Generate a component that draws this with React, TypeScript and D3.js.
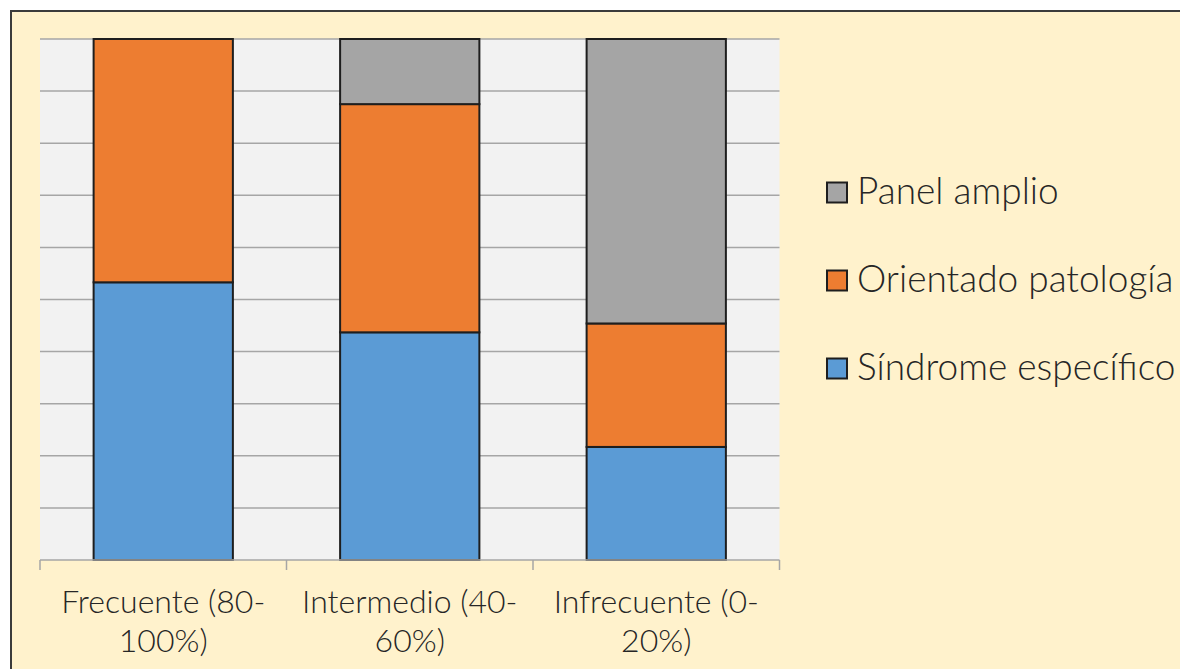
import React from "react";
import * as d3 from "d3";

const categories = ["Frecuente (80-100%)", "Intermedio (40-60%)", "Infrecuente (0-20%)"];
const categoryLines = [
  ["Frecuente (80-", "100%)"],
  ["Intermedio (40-", "60%)"],
  ["Infrecuente (0-", "20%)"],
];
const seriesNames = ["Síndrome específico", "Orientado patología", "Panel amplio"];
const sindromeEspecifico = [53.3, 43.7, 21.7];
const orientadoPatologia = [46.7, 43.8, 23.7];
const panelAmplio = [0, 12.5, 54.6];
const seriesColors = ["#5b9bd5", "#ed7d31", "#a5a5a5"];
const yTicks = [0, 10, 20, 30, 40, 50, 60, 70, 80, 90, 100];

export default function App() {
  const W = 1180, H = 669;
  const left = 40, right = 779.5, top = 39, bottom = 560;
  const x = d3.scaleBand<string>().domain(categories).range([left, right]).paddingInner(0.435).paddingOuter(0.2175);
  const y = d3.scaleLinear().domain([0, 100]).range([bottom, top]);

  const rows = categories.map((c, i) => ({
    cat: c,
    s0: sindromeEspecifico[i],
    s1: orientadoPatologia[i],
    s2: panelAmplio[i],
  }));
  const stack = d3.stack<any>().keys(["s0", "s1", "s2"]);
  const stacked = stack(rows);

  const font = "'Lato Light', Lato, 'Open Sans', sans-serif";
  const textColor = "#262626";
  const step = x.step();
  const tickXs = [0, 1, 2, 3].map((i) => left + i * step);

  const legendOrder = [2, 1, 0];

  return (
    <svg width={W} height={H} style={{ position: "absolute", left: 0, top: 0 }}>
      <rect x={0} y={0} width={W} height={H} fill="#ffffff" />
      <rect x={11} y={11} width={W + 20} height={H + 20} fill="#fff2cc" stroke="#3b3b3b" strokeWidth={2} />
      <rect x={left} y={top} width={right - left} height={bottom - top} fill="#f2f2f2" />
      {yTicks.slice(1).map((t) => (
        <line key={t} x1={left} x2={right} y1={y(t)} y2={y(t)} stroke="#a6a6a6" strokeWidth={1.5} />
      ))}
      {stacked.map((layer, si) =>
        layer.map((d, ci) => {
          const h = y(d[0]) - y(d[1]);
          if (h <= 0) return null;
          return (
            <rect
              key={si + "-" + ci}
              x={x(categories[ci])!}
              y={y(d[1])}
              width={x.bandwidth()}
              height={h}
              fill={seriesColors[si]}
              stroke="#1e1e1e"
              strokeWidth={2}
            />
          );
        })
      )}
      <line x1={left} x2={right} y1={bottom} y2={bottom} stroke="#a6a6a6" strokeWidth={1.5} />
      {tickXs.map((tx, i) => (
        <line key={i} x1={tx} x2={tx} y1={bottom} y2={bottom + 10} stroke="#a6a6a6" strokeWidth={1.5} />
      ))}
      {categories.map((c, i) => (
        <text
          key={c}
          x={x(c)! + x.bandwidth() / 2}
          textAnchor="middle"
          fontFamily={font}
          fontWeight={300}
          fontSize={32}
          fill={textColor}
        >
          {categoryLines[i].map((ln, j) => (
            <tspan key={j} x={x(c)! + x.bandwidth() / 2} y={613 + j * 38.5}>
              {ln}
            </tspan>
          ))}
        </text>
      ))}
      {legendOrder.map((si, k) => {
        const cy = 192.5 + k * 88;
        return (
          <g key={si}>
            <rect x={827} y={cy - 10} width={20} height={20} fill={seriesColors[si]} stroke="#1e1e1e" strokeWidth={2} />
            <text x={857} y={cy + 11.5} fontFamily={font} fontWeight={300} fontSize={37} fill={textColor}>
              {seriesNames[si]}
            </text>
          </g>
        );
      })}
    </svg>
  );
}
